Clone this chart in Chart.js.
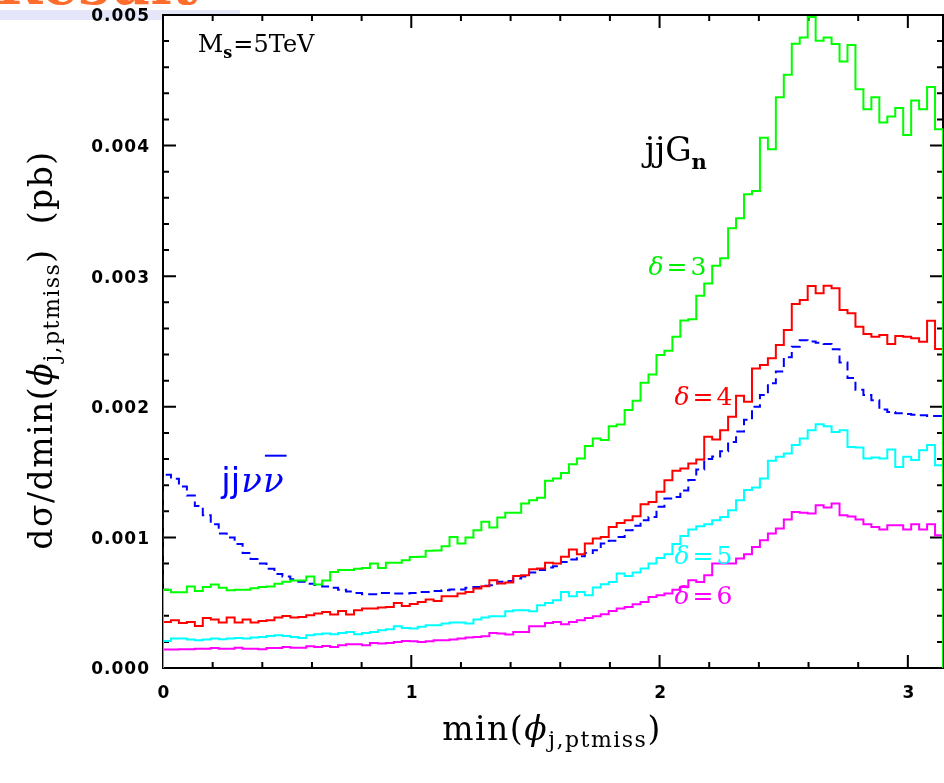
<!DOCTYPE html>
<html lang="en">
<head>
  <meta charset="UTF-8" />
  <title>min(phi_j,ptmiss) distribution</title>
  <script src="https://cdn.jsdelivr.net/npm/chart.js"></script>
  <style>
    * { box-sizing: border-box; }
    html, body { margin: 0; padding: 0; background: #fff; }
    #wrap { position: relative; width: 944px; height: 783px; overflow: hidden; }
    #band { position: absolute; left: 0; top: 10px; width: 240px; height: 10px; background: #e6e6fa; }
    #banner {
      position: absolute; left: -4px; top: -44px;
      font: bold 56px 'DejaVu Serif', serif; line-height: 56px;
      color: #ff6d2d; white-space: nowrap;
    }
    canvas { position: absolute; left: 0; top: 0; }
  </style>
</head>
<body>
<div id="wrap">
  <div id="band"></div>
  <div id="banner">Result</div>
  <canvas id="phiChart" width="944" height="783"></canvas>
</div>

<script>
  // binning: 98 equal bins on [0, pi]
  const NBINS = 98;
  const BIN_W = Math.PI / NBINS;
  const UNIT = 1e-3; // values below are in 10^-3 pb

  const xTickLabels = ['0', '1', '2', '3'];
  const yTickLabels = ['0.000', '0.001', '0.002', '0.003', '0.004', '0.005'];

  // jjG_n, delta = 3
  const delta3 = [
    0.60, 0.58, 0.58, 0.625, 0.59, 0.62, 0.64, 0.615, 0.595, 0.60,
    0.60, 0.61, 0.62, 0.625, 0.645, 0.66, 0.67, 0.67, 0.70, 0.64,
    0.67, 0.735, 0.75, 0.75, 0.76, 0.765, 0.80, 0.765, 0.805, 0.805,
    0.825, 0.85, 0.851, 0.897, 0.90, 0.933, 1.004, 0.953, 0.999, 1.055,
    1.119, 1.076, 1.153, 1.188, 1.188, 1.26, 1.285, 1.303, 1.433, 1.451,
    1.494, 1.561, 1.605, 1.699, 1.758, 1.745, 1.852, 1.865, 1.975, 2.046,
    2.184, 2.248, 2.396, 2.429, 2.536, 2.66, 2.67, 2.85, 2.945, 3.08,
    3.137, 3.367, 3.443, 3.628, 3.653, 4.061, 3.972, 4.371, 4.542, 4.779,
    4.828, 4.984, 4.802, 4.828, 4.777, 4.644, 4.771, 4.432, 4.279, 4.371,
    4.176, 4.222, 4.287, 4.082, 4.345, 4.279, 4.448, 4.126
  ];

  // delta = 4
  const delta4 = [
    0.353, 0.365, 0.345, 0.353, 0.322, 0.383, 0.371, 0.348, 0.386, 0.348,
    0.371, 0.348, 0.36, 0.365, 0.386, 0.398, 0.386, 0.391, 0.404, 0.417,
    0.429, 0.409, 0.437, 0.409, 0.442, 0.455, 0.455, 0.463, 0.467, 0.498,
    0.475, 0.49, 0.506, 0.524, 0.513, 0.549, 0.549, 0.570, 0.582, 0.608,
    0.626, 0.672, 0.647, 0.655, 0.705, 0.710, 0.756, 0.761, 0.805, 0.800,
    0.851, 0.907, 0.871, 0.953, 0.992, 1.004, 1.080, 1.111, 1.132, 1.162,
    1.254, 1.272, 1.349, 1.438, 1.510, 1.528, 1.566, 1.597, 1.770, 1.750,
    1.821, 1.923, 2.084, 2.038, 2.294, 2.320, 2.371, 2.473, 2.588, 2.787,
    2.818, 2.925, 2.869, 2.927, 2.907, 2.741, 2.716, 2.613, 2.557, 2.536,
    2.549, 2.481, 2.542, 2.536, 2.524, 2.498, 2.659, 2.442
  ];

  // delta = 5
  const delta5 = [
    0.207, 0.225, 0.225, 0.218, 0.212, 0.218, 0.225, 0.22, 0.225, 0.23,
    0.225, 0.233, 0.238, 0.245, 0.251, 0.245, 0.238, 0.23, 0.251, 0.258,
    0.264, 0.258, 0.268, 0.276, 0.258, 0.268, 0.276, 0.289, 0.296, 0.32,
    0.307, 0.302, 0.315, 0.327, 0.327, 0.340, 0.348, 0.348, 0.340, 0.371,
    0.386, 0.396, 0.396, 0.434, 0.442, 0.442, 0.434, 0.480, 0.498, 0.519,
    0.582, 0.549, 0.582, 0.557, 0.616, 0.641, 0.659, 0.723, 0.705, 0.731,
    0.761, 0.800, 0.843, 0.871, 0.95, 1.01, 1.06, 1.086, 1.101, 1.132,
    1.157, 1.208, 1.285, 1.362, 1.382, 1.451, 1.586, 1.617, 1.643, 1.707,
    1.758, 1.821, 1.867, 1.852, 1.808, 1.821, 1.693, 1.689, 1.605, 1.612,
    1.605, 1.674, 1.540, 1.617, 1.592, 1.668, 1.707, 1.553
  ];

  // delta = 6
  const delta6 = [
    0.141, 0.141, 0.143, 0.143, 0.148, 0.148, 0.153, 0.148, 0.148, 0.156,
    0.148, 0.148, 0.143, 0.153, 0.153, 0.161, 0.156, 0.156, 0.166, 0.161,
    0.169, 0.161, 0.174, 0.181, 0.181, 0.174, 0.192, 0.187, 0.192, 0.199,
    0.207, 0.204, 0.199, 0.205, 0.212, 0.212, 0.218, 0.225, 0.233, 0.238,
    0.243, 0.268, 0.264, 0.256, 0.276, 0.276, 0.32, 0.32, 0.345, 0.353,
    0.335, 0.353, 0.365, 0.383, 0.396, 0.411, 0.437, 0.455, 0.467, 0.488,
    0.506, 0.544, 0.557, 0.570, 0.60, 0.621, 0.672, 0.659, 0.710, 0.800,
    0.800, 0.800, 0.838, 0.871, 0.927, 0.979, 1.030, 1.068, 1.137, 1.195,
    1.188, 1.183, 1.247, 1.229, 1.260, 1.170, 1.160, 1.137, 1.101, 1.080,
    1.060, 1.093, 1.093, 1.060, 1.101, 1.060, 1.101, 1.017
  ];

  // jj nu nubar background
  const jjnunu = [
    1.48, 1.45, 1.39, 1.32, 1.24, 1.17, 1.10, 1.03, 1.00, 0.95,
    0.88, 0.835, 0.80, 0.76, 0.72, 0.70, 0.68, 0.66, 0.645, 0.635,
    0.625, 0.615, 0.60, 0.585, 0.575, 0.565, 0.565, 0.575, 0.575, 0.57,
    0.57, 0.575, 0.582, 0.582, 0.59, 0.595, 0.601, 0.601, 0.615, 0.621,
    0.630, 0.634, 0.660, 0.667, 0.685, 0.700, 0.731, 0.75, 0.769, 0.78,
    0.812, 0.83, 0.856, 0.88, 0.902, 0.953, 0.975, 1.004, 1.055, 1.09,
    1.132, 1.157, 1.234, 1.298, 1.31, 1.36, 1.44, 1.52, 1.60, 1.62,
    1.66, 1.73, 1.81, 1.90, 2.00, 2.09, 2.18, 2.27, 2.38, 2.46,
    2.51, 2.50, 2.49, 2.48, 2.44, 2.34, 2.22, 2.13, 2.09, 2.05,
    1.98, 1.96, 1.95, 1.945, 1.94, 1.935, 1.93, 1.93
  ];

  // turn bin contents into a closed step outline (rises from 0, falls back to 0)
  function histogram(values) {
    const pts = [{ x: 0, y: 0 }];
    values.forEach((v, k) => pts.push({ x: k * BIN_W, y: v * UNIT }));
    const end = values.length * BIN_W;
    pts.push({ x: end, y: values[values.length - 1] * UNIT });
    pts.push({ x: end, y: 0 });
    return pts;
  }

  const SERIF = "'DejaVu Serif', serif";
  const SANS = "'DejaVu Sans', sans-serif";

  // draw a sequence of differently styled text pieces
  function drawRuns(ctx, x, y, runs, align) {
    let total = 0;
    runs.forEach(r => {
      ctx.font = r.font;
      r.w = ctx.measureText(r.t).width;
      total += r.w + (r.gap || 0);
    });
    let cx = align === 'center' ? x - total / 2 : x;
    runs.forEach(r => {
      ctx.font = r.font;
      ctx.fillText(r.t, cx, y + (r.dy || 0));
      if (r.over) {
        ctx.save();
        ctx.strokeStyle = ctx.fillStyle;
        ctx.lineWidth = 2;
        ctx.beginPath();
        ctx.moveTo(cx + 2, y - r.over);
        ctx.lineTo(cx + r.w + 3, y - r.over);
        ctx.stroke();
        ctx.restore();
      }
      cx += r.w + (r.gap || 0);
    });
  }

  function deltaRuns(n) {
    return [
      { t: 'δ', font: `italic 25px ${SERIF}`, gap: 3 },
      { t: '=', font: `25px ${SERIF}`, gap: 3 },
      { t: n, font: `25px ${SERIF}` }
    ];
  }

  const notes = [
    { x: 0.14, y: 0.00472, color: '#000', runs: [
      { t: 'M', font: `25px ${SERIF}` },
      { t: 's', font: `bold 16px ${SERIF}`, dy: 6, gap: 1 },
      { t: '=5TeV', font: `24px ${SERIF}` }
    ] },
    { x: 1.94, y: 0.00388, color: '#000', runs: [
      { t: 'jjG', font: `33px ${SERIF}` },
      { t: 'n', font: `bold 21px ${SERIF}`, dy: 8 }
    ] },
    { x: 1.955, y: 0.00301, color: '#00ee00', runs: deltaRuns('3') },
    { x: 2.06, y: 0.00201, color: '#ff0000', runs: deltaRuns('4') },
    { x: 2.06, y: 0.00080, color: '#00ffff', runs: deltaRuns('5') },
    { x: 2.06, y: 0.00049, color: '#ff00ff', runs: deltaRuns('6') },
    { x: 0.235, y: 0.00135, color: '#0000ff', runs: [
      { t: 'jj', font: `34px ${SANS}`, gap: 1 },
      { t: 'ν', font: `italic 34px ${SERIF}`, gap: 1 },
      { t: 'ν', font: `italic 34px ${SERIF}`, over: 36 }
    ] }
  ];

  const frame = {
    id: 'frame',
    beforeDraw(chart) {
      const { ctx, chartArea: a } = chart;
      ctx.save();
      ctx.fillStyle = '#fff';
      ctx.fillRect(a.left, a.top, a.right - a.left, a.bottom - a.top);
      ctx.restore();
    },
    beforeDatasetsDraw(chart) {
      const { ctx, chartArea: a, scales: { x, y } } = chart;
      ctx.save();
      ctx.strokeStyle = '#000';
      ctx.lineWidth = 2;
      ctx.strokeRect(a.left, a.top, a.right - a.left, a.bottom - a.top);

      ctx.beginPath();
      // x ticks, bottom and top, minor every 0.2
      for (let i = 0; i * 0.2 <= Math.PI; i++) {
        const px = x.getPixelForValue(i * 0.2);
        const len = i % 5 === 0 ? 13 : 6;
        ctx.moveTo(px, a.bottom); ctx.lineTo(px, a.bottom - len);
        ctx.moveTo(px, a.top); ctx.lineTo(px, a.top + len);
      }
      // y ticks, left and right, minor every 0.0002
      for (let i = 0; i <= 25; i++) {
        const py = y.getPixelForValue(i * 0.0002);
        const len = i % 5 === 0 ? 13 : 6;
        ctx.moveTo(a.left, py); ctx.lineTo(a.left + len, py);
        ctx.moveTo(a.right, py); ctx.lineTo(a.right - len, py);
      }
      ctx.stroke();
      ctx.restore();
    },
    afterDraw(chart) {
      const { ctx, chartArea: a, scales: { x, y } } = chart;
      ctx.save();
      ctx.fillStyle = '#000';
      ctx.font = `bold 17px ${SANS}`;
      ctx.letterSpacing = '1px';
      ctx.textAlign = 'right';
      ctx.textBaseline = 'middle';
      yTickLabels.forEach(l => {
        ctx.fillText(l, a.left - 13, y.getPixelForValue(Number(l)) + 2);
      });
      ctx.textAlign = 'center';
      ctx.textBaseline = 'alphabetic';
      xTickLabels.forEach(l => {
        ctx.fillText(l, x.getPixelForValue(Number(l)) + 1, a.bottom + 30);
      });
      ctx.textAlign = 'left';

      // axis titles (slightly spaced, like the TeX original)
      ctx.letterSpacing = '1.5px';
      const phiRuns = [
        { t: 'ϕ', font: `italic 33px ${SERIF}` },
        { t: 'j,ptmiss', font: `22px ${SERIF}`, dy: 7 }
      ];
      drawRuns(ctx, 552, 740, [
        { t: 'min(', font: `33px ${SERIF}` },
        ...phiRuns,
        { t: ')', font: `33px ${SERIF}` }
      ], 'center');

      ctx.save();
      ctx.translate(52, 350);
      ctx.rotate(-Math.PI / 2);
      drawRuns(ctx, 0, 0, [
        { t: 'dσ/dmin(', font: `33px ${SERIF}` },
        ...phiRuns,
        { t: ')  (pb)', font: `33px ${SERIF}` }
      ], 'center');
      ctx.restore();
      ctx.letterSpacing = '0px';

      // in-plot labels
      notes.forEach(n => {
        ctx.fillStyle = n.color;
        drawRuns(ctx, x.getPixelForValue(n.x), y.getPixelForValue(n.y), n.runs, 'left');
      });
      ctx.restore();
    }
  };

  function series(values, color, dash) {
    return {
      data: histogram(values),
      borderColor: color,
      borderWidth: 2,
      borderDash: dash || [],
      stepped: true,
      pointRadius: 0,
      fill: false
    };
  }

  new Chart(document.getElementById('phiChart'), {
    type: 'line',
    data: {
      datasets: [
        series(delta3, '#00ff00'),
        series(delta4, '#ff0000'),
        series(jjnunu, '#0000ff', [9, 5]),
        series(delta5, '#00ffff'),
        series(delta6, '#ff00ff')
      ]
    },
    options: {
      responsive: false,
      animation: false,
      events: [],
      layout: { padding: { left: 163, right: 1, top: 15, bottom: 115 } },
      scales: {
        x: { type: 'linear', min: 0, max: Math.PI, display: false },
        y: { type: 'linear', min: 0, max: 0.005, display: false }
      },
      plugins: {
        legend: { display: false },
        tooltip: { enabled: false }
      }
    },
    plugins: [frame]
  });
</script>
</body>
</html>
